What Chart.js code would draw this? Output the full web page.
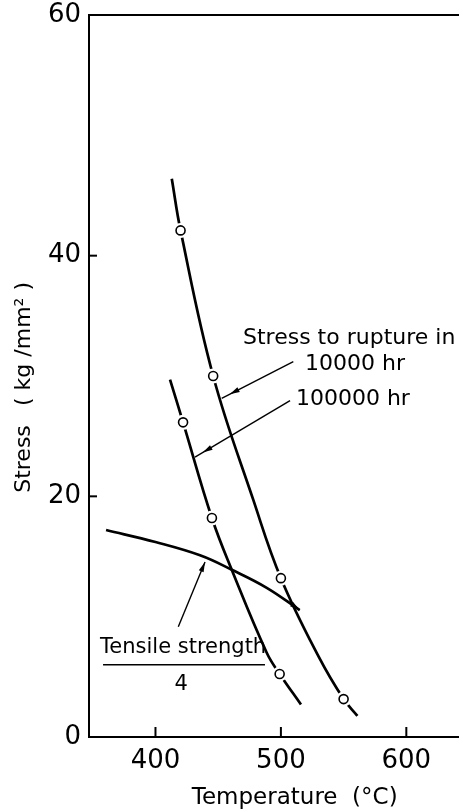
<!DOCTYPE html>
<html>
<head>
<meta charset="utf-8">
<script src="https://cdn.jsdelivr.net/npm/chart.js@4.4.1/dist/chart.umd.min.js"></script>
<style>
  html, body { margin: 0; padding: 0; background: #fff; }
  canvas { display: block; }
</style>
</head>
<body>
<canvas id="chart" width="459" height="812"></canvas>
<script>
// Values: temperature in degC, stress in kg/mm2
const xTicks = [400, 500, 600];
const yTicks = [0, 20, 40, 60];

// stress to rupture in 10000 hr (curve)
const rupture10kTemp   = [413, 420, 446, 478, 500, 530, 550, 561];
const rupture10kStress = [46.4, 42.1, 30.0, 19.7, 13.2, 6.7, 3.15, 1.75];
// measured points (circles)
const tests10kTemp   = [420, 446, 500, 550];
const tests10kStress = [42.1, 30.0, 13.2, 3.15];

// stress to rupture in 100000 hr
const rupture100kTemp   = [411.6, 422, 445, 460.8, 488.7, 499, 516];
const rupture100kStress = [29.7, 26.15, 18.2, 13.9, 7.0, 5.24, 2.7];
const tests100kTemp   = [422, 445, 499];
const tests100kStress = [26.15, 18.2, 5.24];

// tensile strength / 4
const tensileTemp   = [360.6, 400, 435.5, 460.8, 488.7, 515];
const tensileStress = [17.2, 16.2, 15.1, 13.9, 12.4, 10.55];

function toPoints(xs, ys) {
    return xs.map((x, i) => ({ x: x, y: ys[i] }));
}

function curve(xs, ys) {
    return {
        data: toPoints(xs, ys),
        showLine: true,
        borderColor: '#000',
        borderWidth: 2.7,
        pointRadius: 0,
        tension: 0.4,
        order: 3
    };
}

// white ring so the curve breaks around each circle, like the original
function halo(xs, ys) {
    return {
        data: toPoints(xs, ys),
        showLine: false,
        pointRadius: 7.5,
        pointBackgroundColor: '#fff',
        pointBorderWidth: 0,
        order: 2
    };
}

function markers(xs, ys) {
    return {
        data: toPoints(xs, ys),
        showLine: false,
        pointRadius: 4.5,
        pointBackgroundColor: '#fff',
        pointBorderColor: '#000',
        pointBorderWidth: 1.6,
        order: 1
    };
}

// arrows in data units: [fromT, fromS, toT, toS, gap before tip]
const arrows = [
    [509.9, 31.2, 452.8, 28.15, 9],
    [507.3, 27.95, 431.5, 23.25, 9],
    [418.2, 9.17, 439.5, 14.55, 0],
    [505, 11.3, 515, 10.55, 0]
];

function drawArrow(ctx, x1, y1, x2, y2, gap) {
    ctx.beginPath();
    ctx.moveTo(x1, y1);
    ctx.lineTo(x2, y2);
    ctx.stroke();
    const a = Math.atan2(y2 - y1, x2 - x1);
    const tx = x2 - gap * Math.cos(a), ty = y2 - gap * Math.sin(a);
    const L = 10, W = 2.6;
    ctx.beginPath();
    ctx.moveTo(tx, ty);
    ctx.lineTo(tx - L * Math.cos(a) + W * Math.sin(a), ty - L * Math.sin(a) - W * Math.cos(a));
    ctx.lineTo(tx - L * Math.cos(a) - W * Math.sin(a), ty - L * Math.sin(a) + W * Math.cos(a));
    ctx.closePath();
    ctx.fill();
}

const extras = {
    id: 'extras',
    afterDraw(chart) {
        const ctx = chart.ctx;
        const xs = chart.scales.x, ys = chart.scales.y;
        const area = chart.chartArea;
        ctx.save();
        ctx.strokeStyle = '#000';
        ctx.fillStyle = '#000';

        // top frame line
        ctx.lineWidth = 2;
        ctx.beginPath();
        ctx.moveTo(area.left, area.top);
        ctx.lineTo(area.right, area.top);
        ctx.stroke();

        // tick marks pointing inward
        yTicks.forEach(v => {
            if (v === 0 || v === 60) return;
            const y = ys.getPixelForValue(v);
            ctx.beginPath();
            ctx.moveTo(area.left, y);
            ctx.lineTo(area.left + 8, y);
            ctx.stroke();
        });
        xTicks.forEach(v => {
            const x = xs.getPixelForValue(v);
            ctx.beginPath();
            ctx.moveTo(x, area.bottom);
            ctx.lineTo(x, area.bottom - 10);
            ctx.stroke();
        });

        // arrows
        ctx.lineWidth = 1.4;
        arrows.forEach(a => {
            drawArrow(ctx, xs.getPixelForValue(a[0]), ys.getPixelForValue(a[1]),
                xs.getPixelForValue(a[2]), ys.getPixelForValue(a[3]), a[4]);
        });

        // labels
        ctx.textBaseline = 'middle';
        ctx.textAlign = 'left';
        ctx.font = '22px "DejaVu Sans"';
        ctx.fillText('Stress to rupture in', xs.getPixelForValue(469.8), ys.getPixelForValue(33.1));
        ctx.fillText('10000 hr', xs.getPixelForValue(519.2), ys.getPixelForValue(31.0));
        ctx.fillText('100000 hr', xs.getPixelForValue(512.0), ys.getPixelForValue(28.1));
        ctx.font = '21px "DejaVu Sans"';
        ctx.fillText('Tensile strength', xs.getPixelForValue(355.8), ys.getPixelForValue(7.4));
        ctx.textAlign = 'center';
        ctx.fillText('4', xs.getPixelForValue(420.4), ys.getPixelForValue(4.4));
        ctx.lineWidth = 1.5;
        ctx.beginPath();
        ctx.moveTo(xs.getPixelForValue(358.2), ys.getPixelForValue(6.0));
        ctx.lineTo(xs.getPixelForValue(487.3), ys.getPixelForValue(6.0));
        ctx.stroke();

        // axis titles
        ctx.font = '23px "DejaVu Sans"';
        ctx.fillText('Temperature  (\u00B0C)', xs.getPixelForValue(511), 798);
        ctx.save();
        ctx.translate(24, 0);
        ctx.rotate(-Math.PI / 2);
        ctx.font = '22px "DejaVu Sans"';
        ctx.fillText('Stress', -459, 0);
        ctx.fillText('( kg /mm\u00B2 )', -344, 0);
        ctx.restore();

        ctx.restore();
    }
};

const tickFont = { family: 'DejaVu Sans', size: 26 };

// drop the extra room Chart.js keeps for the end labels
function noPadding(s) {
    s.paddingTop = 0;
    s.paddingBottom = 0;
    s.paddingLeft = 0;
    s.paddingRight = 0;
}

new Chart(document.getElementById('chart').getContext('2d'), {
    type: 'scatter',
    data: {
        datasets: [
            curve(rupture10kTemp, rupture10kStress),
            curve(rupture100kTemp, rupture100kStress),
            curve(tensileTemp, tensileStress),
            halo(tests10kTemp, tests10kStress),
            halo(tests100kTemp, tests100kStress),
            markers(tests10kTemp, tests10kStress),
            markers(tests100kTemp, tests100kStress)
        ]
    },
    options: {
        responsive: false,
        animation: false,
        layout: { autoPadding: false, padding: { top: 15, right: 0, left: 0, bottom: 0 } },
        plugins: {
            legend: { display: false },
            tooltip: { enabled: false }
        },
        scales: {
            x: {
                type: 'linear',
                min: 347,
                max: 642,
                afterBuildTicks: s => { s.ticks = xTicks.map(v => ({ value: v })); },
                afterFit: s => { s.height = 75; noPadding(s); },
                grid: { display: false, drawTicks: false },
                border: { display: true, color: '#000', width: 2 },
                ticks: { color: '#000', font: tickFont, padding: 9, maxRotation: 0 }
            },
            y: {
                type: 'linear',
                min: 0,
                max: 60,
                afterBuildTicks: s => { s.ticks = yTicks.map(v => ({ value: v })); },
                afterFit: s => { s.width = 89; noPadding(s); },
                grid: { display: false, drawTicks: false },
                border: { display: true, color: '#000', width: 2 },
                ticks: { color: '#000', font: tickFont, padding: 8 }
            }
        }
    },
    plugins: [extras]
});
</script>
</body>
</html>
